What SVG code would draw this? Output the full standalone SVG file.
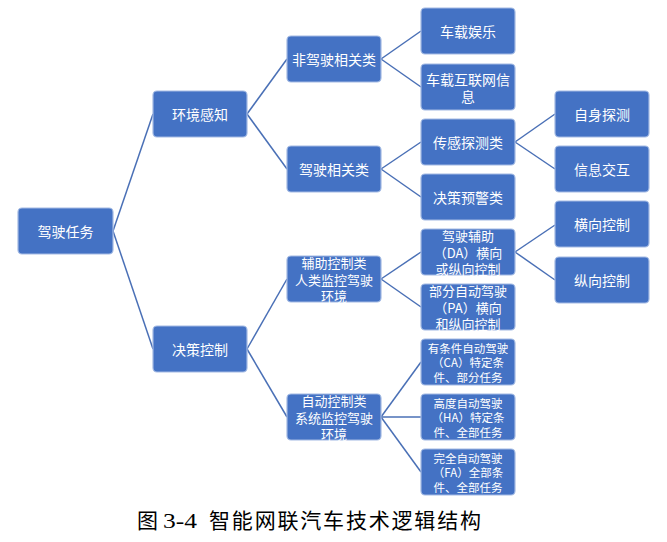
<svg xmlns="http://www.w3.org/2000/svg" width="667" height="542" viewBox="0 0 667 542">
<style>
.n rect{fill:#4472C4;stroke:#A3BAE3;stroke-width:1.2}
.n text{fill:#fff;font-family:"Noto Sans CJK SC","Liberation Sans",sans-serif;font-size:14px;text-anchor:middle;dominant-baseline:central}
.n text.m{font-size:13px}
.n text.s{font-size:11.5px}
#connectors line{stroke:#4A70B6;stroke-width:1.5}
.cap{font-family:"Liberation Serif","Noto Sans CJK SC",serif;font-size:21px;fill:#000}
</style>
<rect width="667" height="542" fill="#fff"/>
<g id="connectors">
<line x1="113" y1="231" x2="153" y2="114"/>
<line x1="113" y1="231" x2="153" y2="349"/>
<line x1="247" y1="114" x2="287" y2="59"/>
<line x1="247" y1="114" x2="287" y2="169"/>
<line x1="247" y1="349" x2="287" y2="279"/>
<line x1="247" y1="349" x2="287" y2="417"/>
<line x1="381" y1="59" x2="421" y2="31"/>
<line x1="381" y1="59" x2="421" y2="87"/>
<line x1="381" y1="169" x2="421" y2="142"/>
<line x1="381" y1="169" x2="421" y2="197"/>
<line x1="515" y1="142" x2="555" y2="114"/>
<line x1="515" y1="142" x2="555" y2="169"/>
<line x1="381" y1="279" x2="421" y2="252"/>
<line x1="381" y1="279" x2="421" y2="307"/>
<line x1="515" y1="252" x2="555" y2="225"/>
<line x1="515" y1="252" x2="555" y2="280"/>
<line x1="381" y1="417" x2="421" y2="362"/>
<line x1="381" y1="417" x2="421" y2="417"/>
<line x1="381" y1="417" x2="421" y2="472"/>
</g>
<g id="root" class="n"><rect x="18" y="208" width="95" height="46" rx="4"/><text x="65.5" y="231">驾驶任务</text></g>
<g id="env" class="n"><rect x="153" y="91" width="94" height="46" rx="4"/><text x="200" y="114">环境感知</text></g>
<g id="decision" class="n"><rect x="153" y="326" width="94" height="46" rx="4"/><text x="200" y="349">决策控制</text></g>
<g id="nondrive" class="n"><rect x="287" y="36" width="94" height="46" rx="4"/><text x="334" y="59">非驾驶相关类</text></g>
<g id="drive" class="n"><rect x="287" y="146" width="94" height="46" rx="4"/><text x="334" y="169">驾驶相关类</text></g>
<g id="assist" class="n"><rect x="287" y="256" width="94" height="46" rx="4"/><text class="m" x="334" y="262.5">辅助控制类</text><text class="m" x="334" y="279">人类监控驾驶</text><text class="m" x="334" y="295.5">环境</text></g>
<g id="auto" class="n"><rect x="287" y="394" width="94" height="46" rx="4"/><text class="m" x="334" y="400.5">自动控制类</text><text class="m" x="334" y="417">系统监控驾驶</text><text class="m" x="334" y="433.5">环境</text></g>
<g id="ent" class="n"><rect x="421" y="8" width="94" height="46" rx="4"/><text x="468" y="31">车载娱乐</text></g>
<g id="inet" class="n"><rect x="421" y="64" width="94" height="46" rx="4"/><text x="468" y="78.5">车载互联网信</text><text x="468" y="96">息</text></g>
<g id="sense" class="n"><rect x="421" y="119" width="94" height="46" rx="4"/><text x="468" y="142">传感探测类</text></g>
<g id="warn" class="n"><rect x="421" y="174" width="94" height="46" rx="4"/><text x="468" y="197">决策预警类</text></g>
<g id="da" class="n"><rect x="421" y="229" width="94" height="46" rx="4"/><text class="m" x="468" y="235.5">驾驶辅助</text><text class="m" x="468" y="252">（DA）横向</text><text class="m" x="468" y="268.5">或纵向控制</text></g>
<g id="pa" class="n"><rect x="421" y="284" width="94" height="46" rx="4"/><text class="m" x="468" y="290.5">部分自动驾驶</text><text class="m" x="468" y="307">（PA）横向</text><text class="m" x="468" y="323.5">和纵向控制</text></g>
<g id="ca" class="n"><rect x="421" y="339" width="94" height="46" rx="4"/><text class="s" x="468" y="347.5">有条件自动驾驶</text><text class="s" x="468" y="362">（CA）特定条</text><text class="s" x="468" y="376.5">件、部分任务</text></g>
<g id="ha" class="n"><rect x="421" y="394" width="94" height="46" rx="4"/><text class="s" x="468" y="402.5">高度自动驾驶</text><text class="s" x="468" y="417">（HA）特定条</text><text class="s" x="468" y="431.5">件、全部任务</text></g>
<g id="fa" class="n"><rect x="421" y="449" width="94" height="46" rx="4"/><text class="s" x="468" y="457.5">完全自动驾驶</text><text class="s" x="468" y="472">（FA）全部条</text><text class="s" x="468" y="486.5">件、全部任务</text></g>
<g id="self" class="n"><rect x="555" y="91" width="94" height="46" rx="4"/><text x="602" y="114">自身探测</text></g>
<g id="info" class="n"><rect x="555" y="146" width="94" height="46" rx="4"/><text x="602" y="169">信息交互</text></g>
<g id="lat" class="n"><rect x="555" y="201" width="94" height="46" rx="4"/><text x="602" y="224">横向控制</text></g>
<g id="lon" class="n"><rect x="555" y="257" width="94" height="46" rx="4"/><text x="602" y="280">纵向控制</text></g>
<text class="cap" y="528"><tspan x="137">图</tspan><tspan x="163" textLength="34" lengthAdjust="spacingAndGlyphs">3-4</tspan><tspan x="209" textLength="272" lengthAdjust="spacing">智能网联汽车技术逻辑结构</tspan></text>
</svg>
